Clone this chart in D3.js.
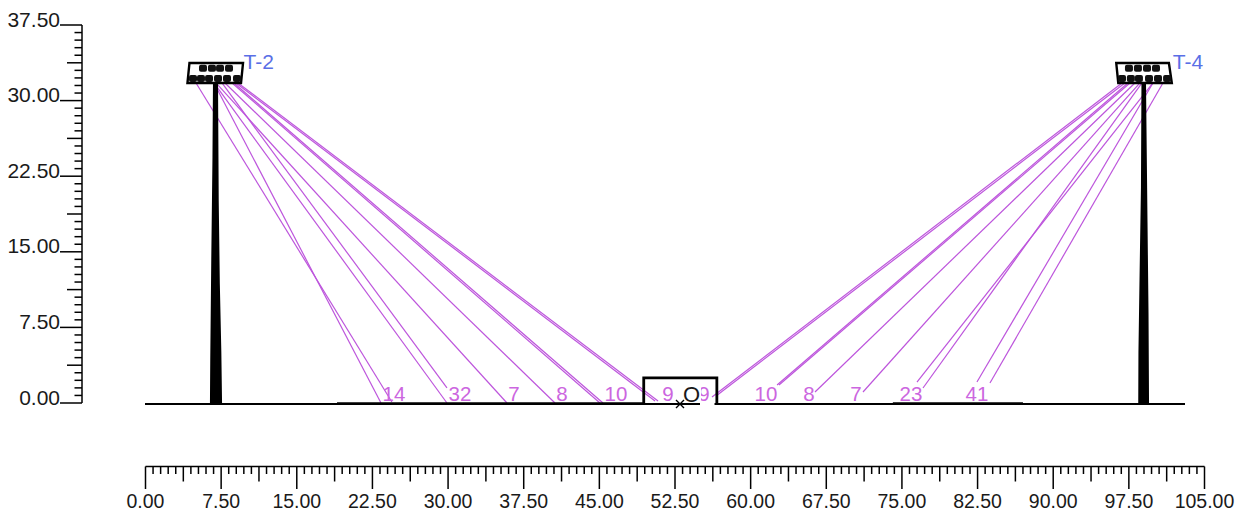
<!DOCTYPE html>
<html>
<head>
<meta charset="utf-8">
<script src="https://cdn.jsdelivr.net/npm/d3@7"></script>
<style>
html, body { margin: 0; padding: 0; background: #fff; }
text { font-family: "Liberation Sans", Arial, sans-serif; }
</style>
</head>
<body>
<div id="chart"></div>
<script>
// axis ticks
var xTicks = [0, 7.5, 15, 22.5, 30, 37.5, 45, 52.5, 60, 67.5, 75, 82.5, 90, 97.5, 105];
var yTicks = [0, 7.5, 15, 22.5, 30, 37.5];

// towers, outlines in metres
var towerNames = ["T-2", "T-4"];
var towerLabelX = [9.77, 101.9];
var towerLeft = [[6.69, 31.75], [7.19, 31.75], [7.26, 20.1], [7.37, 11.8], [7.52, 5.0], [7.59, 0],
                 [6.39, 0], [6.42, 4.3], [6.52, 14.2], [6.64, 24.4]];
var towerRight = [[98.75, 31.75], [99.2, 31.75], [99.25, 27.1], [99.35, 17.9], [99.45, 8.9], [99.5, 0],
                  [98.43, 0], [98.45, 5.0], [98.57, 13.2], [98.7, 21.4]];

// lamp heads
var headLeft = [[4.16, 31.75], [9.47, 31.75], [9.67, 33.73], [4.36, 33.73]];
var headRight = [[96.25, 33.73], [101.47, 33.73], [101.76, 31.75], [96.45, 31.75]];

// lamps on the heads, lower and upper rows
var lampXLeft = [4.71, 5.5, 6.3, 7.19, 8.08, 9.07, 5.7, 6.59, 7.39, 8.28];
var lampYLeft = [32.2, 32.2, 32.2, 32.2, 32.2, 32.2, 33.2, 33.2, 33.2, 33.2];
var lampXRight = [96.82, 97.7, 98.5, 99.5, 100.39, 101.29, 97.51, 98.4, 99.3, 100.19];
var lampYRight = [32.2, 32.2, 32.2, 32.2, 32.2, 32.2, 33.2, 33.2, 33.2, 33.2];

// beams, from lamp to where the line stops, metres
var beamX0 = [5.01, 6.79, 6.79, 7.58, 6.99, 7.88, 8.58, 8.77, 8.97, 9.17,
              96.82, 97.11, 97.41, 97.61, 98.1, 98.6, 98.8, 99.89, 99.89, 100.88];
var beamX1 = [24.43, 23.35, 29.89, 29.89, 35.84, 40.6, 45.06, 45.36, 50.52, 50.82,
              56.17, 56.57, 62.62, 62.81, 66.38, 71.14, 77.09, 76.49, 82.44, 83.73];
var beamY1 = [0.1, 0, 0, 1.49, 0, 0, 0, 0, 0.2, 0.2,
              0.6, 0.7, 1.79, 1.79, 1.09, 1.09, 1.49, 2.08, 2.08, 1.98];
var beamTop = 31.75;

// purple aiming counts along the ground
var labelText = ["14", "32", "7", "8", "10", "9", "9", "10", "8", "7", "23", "41"];
var labelX = [24.64, 31.18, 36.54, 41.3, 46.65, 51.8, 55.37, 61.52, 65.78, 70.44, 75.89, 82.44];

// thicker stretches of the ground line
var groundThick = [[18.99, 49.36], [74.1, 87.0]];

var svgWidth = 1245;
var svgHeight = 516;
var purple = "#bd55dc";

var svg = d3.select("#chart").append("svg")
    .attr("width", svgWidth)
    .attr("height", svgHeight)
    .style("display", "block");

var xScale = d3.scaleLinear().domain([0, 105]).range([145.5, 1204.5]);
var yScale = d3.scaleLinear().domain([0, 37.5]).range([403, 25]);
var toPath = d3.line().x(d => xScale(d[0])).y(d => yScale(d[1]));
var toClosed = d3.line().x(d => xScale(d[0])).y(d => yScale(d[1])).curve(d3.curveLinearClosed);

// left axis
var leftAxis = svg.append("g").attr("stroke", "#000").attr("stroke-width", 1.5);
leftAxis.append("line")
    .attr("x1", 82).attr("x2", 82)
    .attr("y1", yScale(37.5)).attr("y2", yScale(0));
d3.range(0, 51).forEach(function(i) {
    var v = i * 0.75;
    var len = i % 10 == 0 ? 22 : (i % 5 == 0 ? 15 : 7.5);
    leftAxis.append("line")
        .attr("x1", 82 - len).attr("x2", 82)
        .attr("y1", yScale(v)).attr("y2", yScale(v));
});
svg.selectAll(".ylabel").data(yTicks).enter().append("text")
    .attr("class", "ylabel")
    .attr("x", 60)
    .attr("y", d => yScale(d) + 1.5)
    .attr("text-anchor", "end")
    .attr("font-size", 21)
    .attr("fill", "#1a1a1a")
    .text(d => d.toFixed(2));

// bottom axis
var bottomAxis = svg.append("g").attr("stroke", "#000").attr("stroke-width", 1.5);
bottomAxis.append("line")
    .attr("x1", xScale(0)).attr("x2", xScale(105))
    .attr("y1", 466.5).attr("y2", 466.5);
d3.range(0, 141).forEach(function(i) {
    var v = i * 0.75;
    var len = i % 10 == 0 ? 22.5 : (i % 5 == 0 ? 15 : 7.5);
    bottomAxis.append("line")
        .attr("x1", xScale(v)).attr("x2", xScale(v))
        .attr("y1", 466.5).attr("y2", 466.5 + len);
});
svg.selectAll(".xlabel").data(xTicks).enter().append("text")
    .attr("class", "xlabel")
    .attr("x", d => xScale(d))
    .attr("y", 508)
    .attr("text-anchor", "middle")
    .attr("font-size", 19.5)
    .attr("fill", "#1a1a1a")
    .text(d => d.toFixed(2));

// beams
beamX0.forEach(function(d, i) {
    svg.append("line")
        .attr("x1", xScale(d)).attr("y1", yScale(beamTop))
        .attr("x2", xScale(beamX1[i])).attr("y2", yScale(beamY1[i]))
        .attr("stroke", purple).attr("stroke-width", 1.2);
});

// ground and the little box in the middle
svg.append("line")
    .attr("x1", 145).attr("x2", 1185)
    .attr("y1", yScale(-0.1)).attr("y2", yScale(-0.1))
    .attr("stroke", "#000").attr("stroke-width", 2.2);
groundThick.forEach(function(d) {
    svg.append("line")
        .attr("x1", xScale(d[0])).attr("x2", xScale(d[1]))
        .attr("y1", yScale(-0.05)).attr("y2", yScale(-0.05))
        .attr("stroke", "#000").attr("stroke-width", 2.6);
});
svg.append("path")
    .attr("d", toPath([[49.4, 0], [49.4, 2.5], [56.65, 2.5], [56.65, 0]]))
    .attr("fill", "none").attr("stroke", "#000").attr("stroke-width", 2.8);

// towers
towerNames.forEach(function(name, i) {
    svg.append("path")
        .attr("d", toClosed(i == 0 ? towerLeft : towerRight))
        .attr("fill", "#000");
    svg.append("path")
        .attr("d", toClosed(i == 0 ? headLeft : headRight))
        .attr("fill", "none").attr("stroke", "#000").attr("stroke-width", 2.4);
    var lx = i == 0 ? lampXLeft : lampXRight;
    var ly = i == 0 ? lampYLeft : lampYRight;
    lx.forEach(function(x, j) {
        svg.append("rect")
            .attr("x", xScale(x) - 4).attr("y", yScale(ly[j]) - 3.5)
            .attr("width", 8).attr("height", 7)
            .attr("rx", 2).attr("fill", "#111");
    });
    svg.append("text")
        .attr("x", xScale(towerLabelX[i]) - 0.5)
        .attr("y", 69)
        .attr("font-size", 21)
        .attr("fill", "#5a6fe6")
        .text(name);
});

// purple labels sit on white, they cut the beams underneath
svg.selectAll(".count").data(labelText).enter().append("text")
    .attr("class", "count")
    .attr("x", (d, i) => xScale(labelX[i]))
    .attr("y", 400.5)
    .attr("text-anchor", "middle")
    .attr("font-size", 20.5)
    .attr("fill", "#cc66e0")
    .text(d => d);

// origin
svg.append("rect").attr("x", 683).attr("y", 384).attr("width", 18).attr("height", 18).attr("fill", "#fff");
svg.append("rect").attr("x", 700).attr("y", 402).attr("width", 14.5).attr("height", 4).attr("fill", "#fff");
svg.append("text")
    .attr("x", 691.5).attr("y", 402)
    .attr("text-anchor", "middle")
    .attr("font-size", 22).attr("fill", "#1a1a1a")
    .text("O");
svg.append("path")
    .attr("d", "M676,400L684,408M684,400L676,408")
    .attr("stroke", "#000").attr("stroke-width", 1.4);
</script>
</body>
</html>
